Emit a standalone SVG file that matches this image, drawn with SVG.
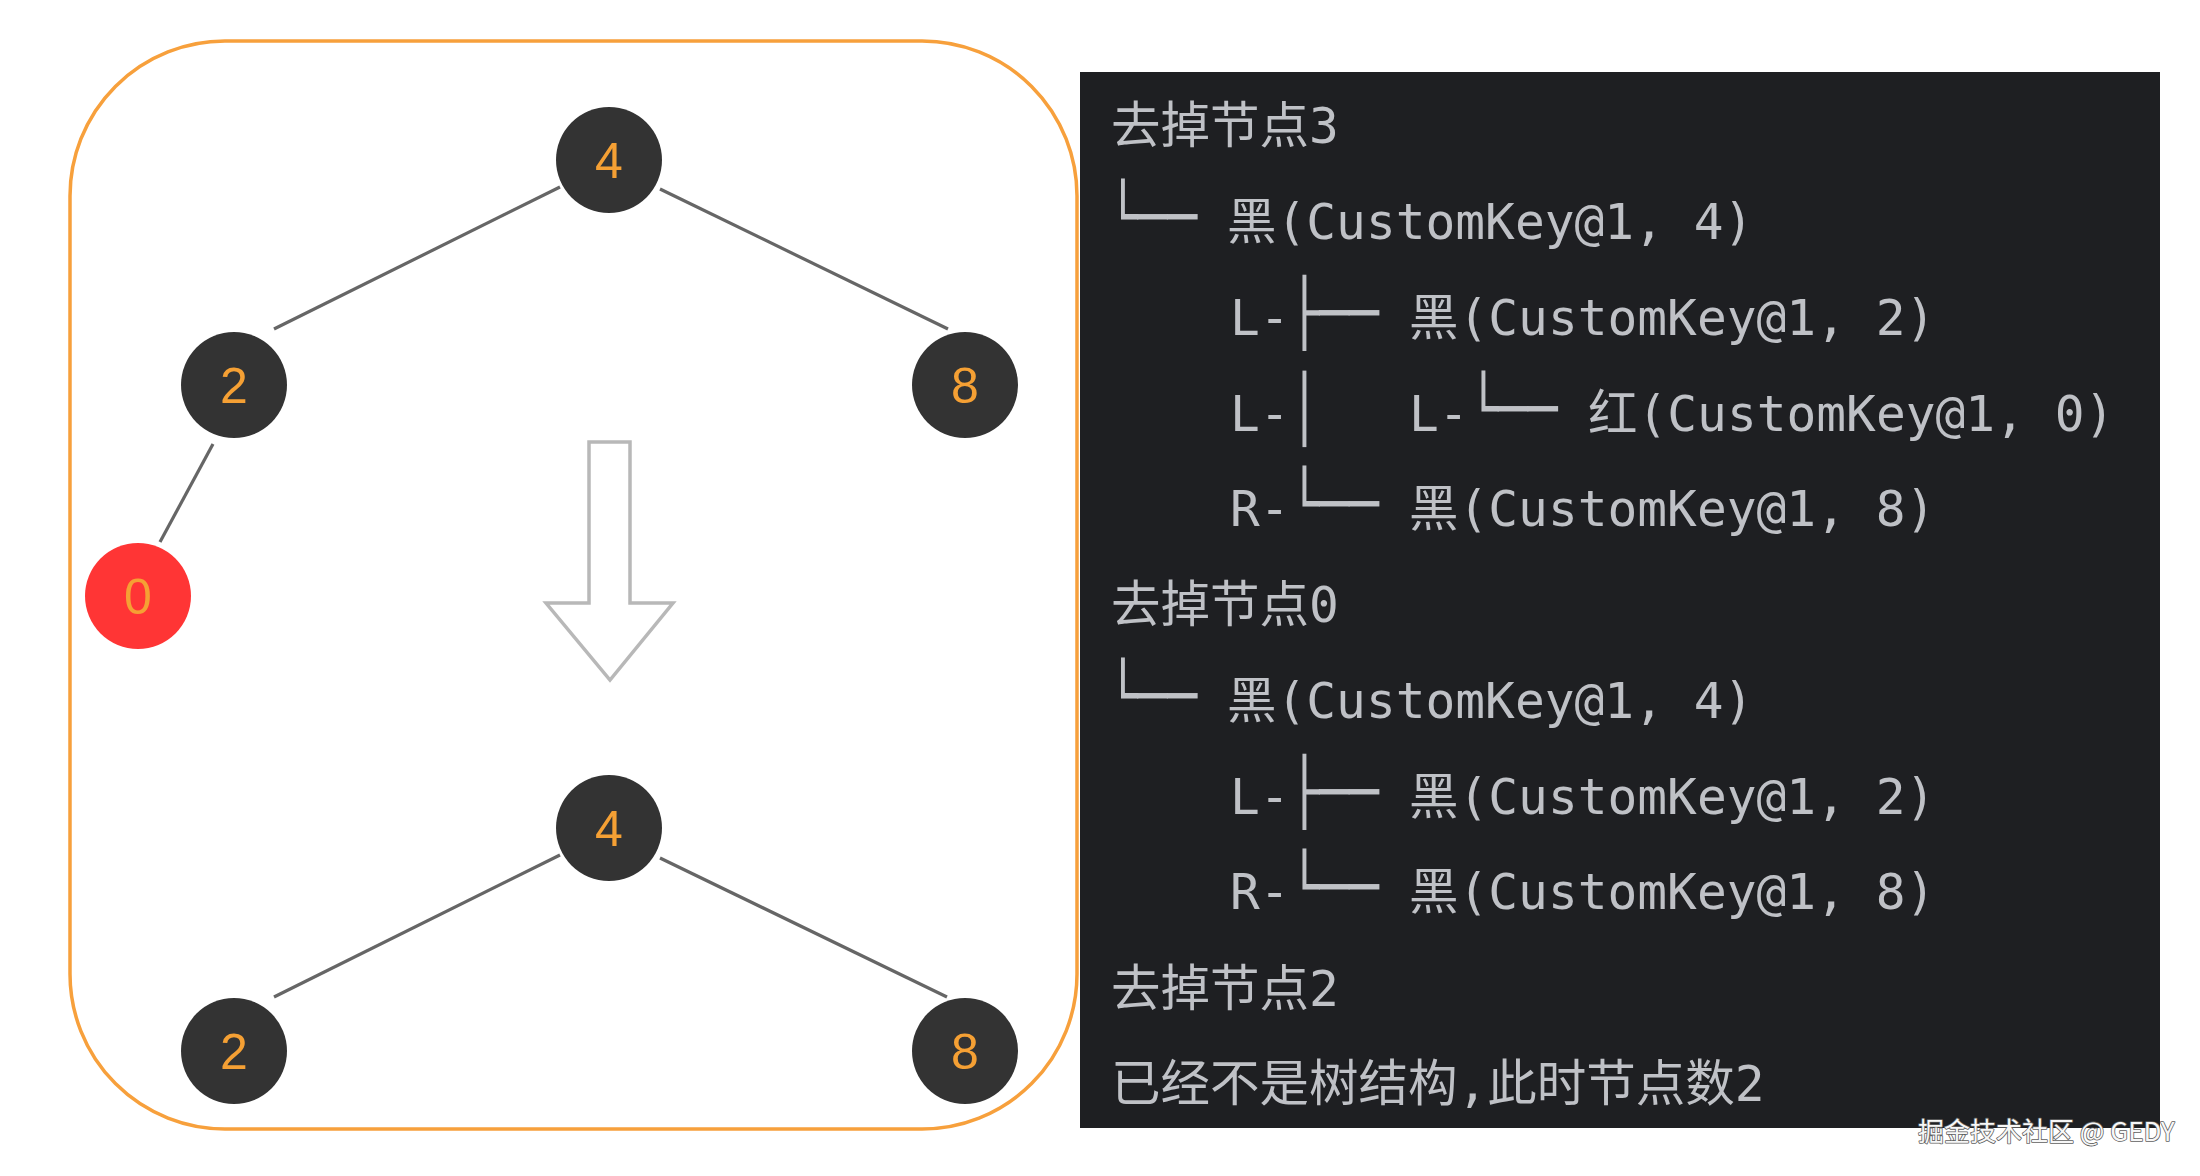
<svg xmlns="http://www.w3.org/2000/svg" width="2200" height="1176" viewBox="0 0 2200 1176">
<style>
.edge{stroke:#666666;stroke-width:3.2;fill:none;stroke-linecap:butt}
.node{fill:#333333}
.red{fill:#ff3535}
.lbl{font-family:"Liberation Sans",Arial,sans-serif;font-size:50px;fill:#f5a034;text-anchor:middle}
.con{font-family:"DejaVu Sans Mono","Noto Sans CJK SC",monospace;font-size:49.5px;fill:#bfc1c6}
.wm{font-family:"Noto Sans CJK SC","Liberation Sans",sans-serif;font-size:26px;fill:#f7f7f7;stroke:#606060;stroke-width:1.6;paint-order:stroke;stroke-linejoin:round}
</style>
<rect x="0" y="0" width="2200" height="1176" fill="#ffffff"/>
<rect id="frame" x="70" y="41" width="1007" height="1088" rx="155" ry="155" fill="none" stroke="#f7a03c" stroke-width="3.5"/>
<g id="connectors">
<line class="edge" x1="560" y1="187" x2="274" y2="329"/>
<line class="edge" x1="660" y1="189" x2="948" y2="329"/>
<line class="edge" x1="213" y1="444" x2="160" y2="542"/>
<line class="edge" x1="560" y1="855" x2="274" y2="997"/>
<line class="edge" x1="660" y1="858" x2="947" y2="997"/>
</g>
<g id="arrow">
<polygon points="589,442 630,442 630,603 673,603 610,680 546,603 589,603" fill="#ffffff" stroke="#b8b8b8" stroke-width="3.5" stroke-linejoin="miter"/>
</g>
<g id="n4a"><circle class="node" cx="609" cy="160" r="53"/><text class="lbl" x="609" y="178">4</text></g>
<g id="n2a"><circle class="node" cx="234" cy="385" r="53"/><text class="lbl" x="234" y="403">2</text></g>
<g id="n8a"><circle class="node" cx="965" cy="385" r="53"/><text class="lbl" x="965" y="403">8</text></g>
<g id="n0a"><circle class="red" cx="138" cy="596" r="53"/><text class="lbl" x="138" y="614">0</text></g>
<g id="n4b"><circle class="node" cx="609" cy="828" r="53"/><text class="lbl" x="609" y="846">4</text></g>
<g id="n2b"><circle class="node" cx="234" cy="1051" r="53"/><text class="lbl" x="234" y="1069">2</text></g>
<g id="n8b"><circle class="node" cx="965" cy="1051" r="53"/><text class="lbl" x="965" y="1069">8</text></g>
<g id="console">
<rect x="1080" y="72" width="1080" height="1056" fill="#1e1f22"/>
<text class="con" x="1111" y="143">去掉节点3</text>

<text class="con" transform="translate(1108,239) scale(1,1.3)">└──</text>
<text class="con" x="1227" y="239" xml:space="preserve">黑(CustomKey@1, 4)</text>

<text class="con" x="1230" y="335">L-</text>
<text class="con" transform="translate(1289.6,335) scale(1,1.3)">├──</text>
<text class="con" x="1409" y="335" xml:space="preserve">黑(CustomKey@1, 2)</text>

<text class="con" x="1230" y="431">L-</text>
<text class="con" transform="translate(1289.6,431) scale(1,1.3)">│</text>
<text class="con" x="1409" y="431">L-</text>
<text class="con" transform="translate(1468.4,431) scale(1,1.3)">└──</text>
<text class="con" x="1588" y="431" xml:space="preserve">红(CustomKey@1, 0)</text>

<text class="con" x="1230" y="526">R-</text>
<text class="con" transform="translate(1289.6,526) scale(1,1.3)">└──</text>
<text class="con" x="1409" y="526" xml:space="preserve">黑(CustomKey@1, 8)</text>

<text class="con" x="1111" y="622">去掉节点0</text>

<text class="con" transform="translate(1108,718) scale(1,1.3)">└──</text>
<text class="con" x="1227" y="718" xml:space="preserve">黑(CustomKey@1, 4)</text>

<text class="con" x="1230" y="814">L-</text>
<text class="con" transform="translate(1289.6,814) scale(1,1.3)">├──</text>
<text class="con" x="1409" y="814" xml:space="preserve">黑(CustomKey@1, 2)</text>

<text class="con" x="1230" y="909">R-</text>
<text class="con" transform="translate(1289.6,909) scale(1,1.3)">└──</text>
<text class="con" x="1409" y="909" xml:space="preserve">黑(CustomKey@1, 8)</text>

<text class="con" x="1111" y="1006">去掉节点2</text>
<text class="con" x="1111" y="1101">已经不是树结构,此时节点数2</text>
</g>
<text class="wm" x="1918" y="1141">掘金技术社区 @ GEDY</text>
</svg>
